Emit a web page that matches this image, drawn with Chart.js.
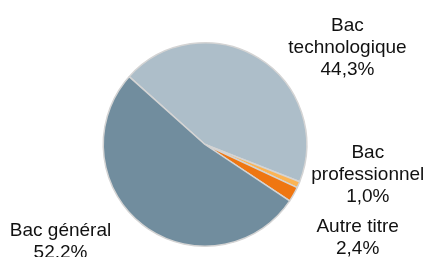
<!DOCTYPE html>
<html>
<head>
<meta charset="utf-8">
<script src="https://cdn.jsdelivr.net/npm/chart.js@4/dist/chart.umd.min.js"></script>
<style>
  html, body { margin: 0; padding: 0; background: #fff; }
  #wrap { width: 426px; height: 257px; }
</style>
</head>
<body>
<div id="wrap"><canvas id="c"></canvas></div>
<script>
// diplome share, in percent
var categories = ["Bac technologique", "Bac professionnel", "Autre titre", "Bac général"];
var values = [44.3, 1.0, 2.4, 52.2];
var labelLines = [
  ["Bac", "technologique", "44,3%"],
  ["Bac", "professionnel", "1,0%"],
  ["Autre titre", "2,4%"],
  ["Bac général", "52,2%"]
];
var colors = ["#adbec9", "#fbb454", "#ef7611", "#718d9e"];

// where each label block sits, in pie radii from the centre
var labelAt = [[1.40, -0.95], [1.60, 0.30], [1.50, 0.92], [-1.42, 0.96]];

var outLabels = {
  id: "outLabels",
  afterDraw: function(chart) {
    var ctx = chart.ctx;
    var arc = chart.getDatasetMeta(0).data[0];
    var cx = arc.x, cy = arc.y, r = arc.outerRadius;
    ctx.save();
    ctx.font = "19px 'Liberation Sans', Arial, sans-serif";
    ctx.fillStyle = "#111";
    ctx.textAlign = "center";
    ctx.textBaseline = "middle";
    var lh = 22;
    labelLines.forEach(function(lines, i) {
      var x = cx + r * labelAt[i][0];
      var y = cy + r * labelAt[i][1];
      var y0 = y - (lines.length - 1) * lh / 2;
      lines.forEach(function(t, j) {
        ctx.fillText(t, x, y0 + j * lh);
      });
    });
    ctx.restore();
  }
};

new Chart(document.getElementById("c"), {
  type: "pie",
  data: {
    labels: categories,
    datasets: [{
      data: values,
      backgroundColor: colors,
      borderColor: "#d4d4d4",
      borderWidth: 1.5
    }]
  },
  options: {
    responsive: true,
    maintainAspectRatio: false,
    animation: false,
    rotation: 311.8,
    layout: { padding: { top: 42, bottom: 10, left: 2, right: 18 } },
    plugins: {
      legend: { display: false },
      tooltip: { enabled: false }
    }
  },
  plugins: [outLabels]
});
</script>
</body>
</html>
